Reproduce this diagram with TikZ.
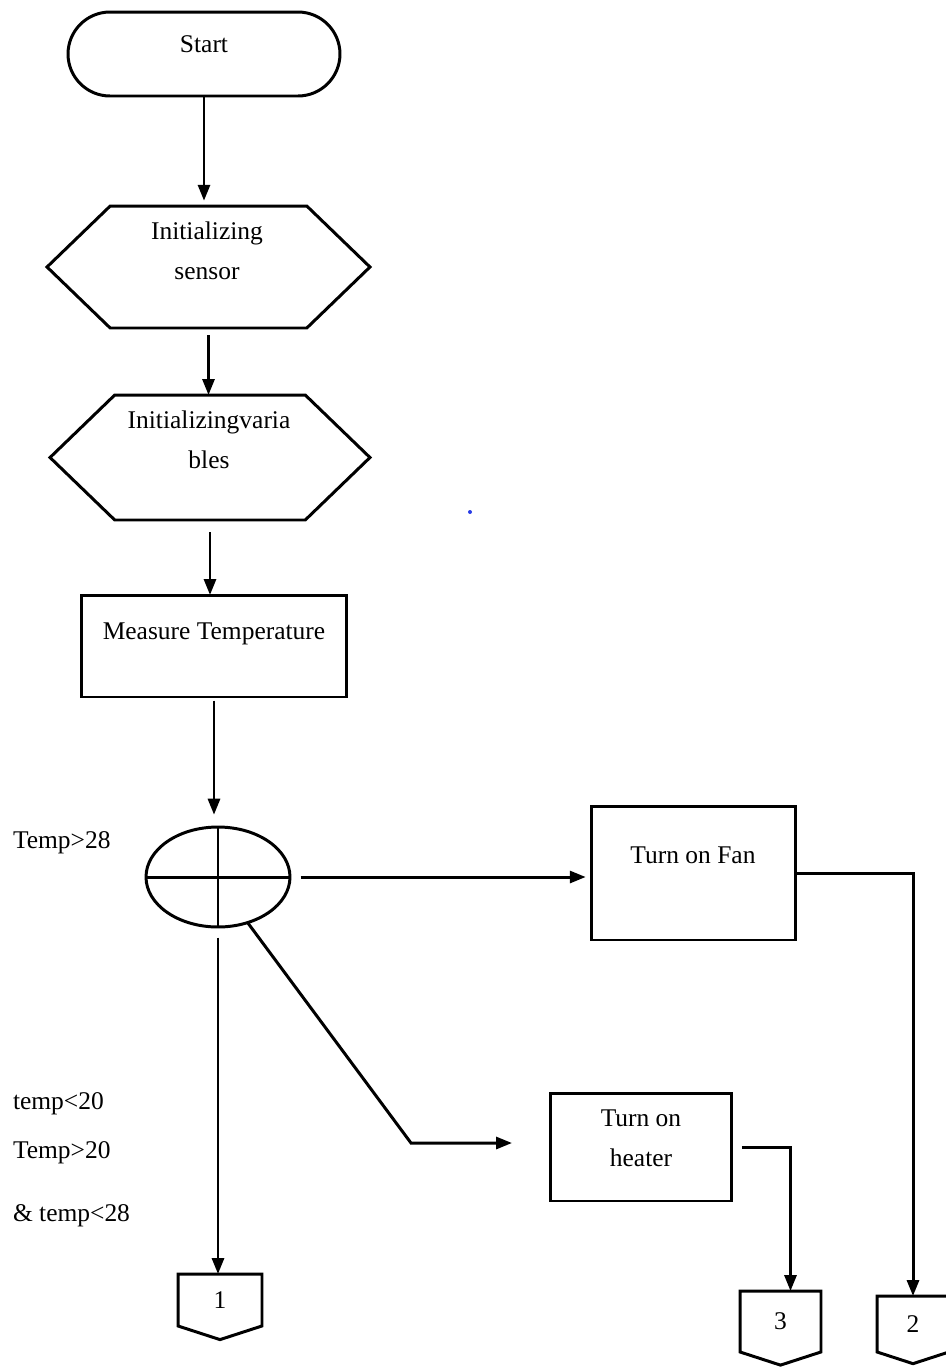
\documentclass[tikz,border=0pt]{standalone}
\usepackage{fontspec}
\setmainfont{Liberation Serif}
\usetikzlibrary{arrows.meta,positioning,shapes.geometric,shapes.misc,shapes.symbols}
\definecolor{dotBlue}{RGB}{40,60,230}

\begin{document}
\begin{tikzpicture}[x=0.02cm,y=-0.02cm,
    font=\fontsize{14.5}{23}\selectfont,
    every node/.style={inner sep=0pt,outer sep=0pt},
    lw/.style={line width=1.7pt},
    terminal/.style={lw,draw,rounded rectangle,minimum width=5.44cm,minimum height=1.68cm},
    prep/.style={lw,draw,signal,signal to=west and east,signal pointer angle=88},
    procbox/.style={lw,draw,rectangle},
    offpage/.style={lw,draw,signal,signal from=nowhere,signal to=south,signal pointer angle=144},
    arr/.style={lw,-{Triangle[length=3.2mm,width=2.4mm]}}]
  \useasboundingbox (0,0) rectangle (946,1367);

  % shapes
  \node[terminal] (start) at (204,54) {};
  \node at (204,44) {Start};
  \node[prep,minimum width=6.46cm,minimum height=2.44cm] (hexsens) at (208.5,267) {};
  \node[align=center] at (207,251) {Initializing\\sensor};
  \node[prep,minimum width=6.4cm,minimum height=2.5cm] (hexvar) at (210,457.5) {};
  \node[align=center] at (209,440) {Initializingvaria\\bles};
  \node[procbox,minimum width=5.32cm,minimum height=2.04cm] (measure) at (214,646) {};
  \node at (214,634) {Measure Temperature};
  \node[lw,draw,ellipse,minimum width=2.88cm,minimum height=2cm] (sw) at (218,877) {};
  \draw[lw] (sw.west) -- (sw.east) (sw.north) -- (sw.south);
  \node[procbox,minimum width=4.1cm,minimum height=2.68cm] (fan) at (693.5,873) {};
  \node at (693,855) {Turn on Fan};
  \node[procbox,minimum width=3.64cm,minimum height=2.16cm] (heater) at (641,1147) {};
  \node[align=center] at (641,1138) {Turn on\\heater};

  % off page connectors
  \node[offpage,minimum width=1.68cm,minimum height=1.08cm] (c1) at (220,1300) {1};
  \node[offpage,minimum width=1.62cm,minimum height=1.26cm] (c3) at (780.5,1321.5) {3};
  \node[offpage,minimum width=1.44cm,minimum height=1.16cm] (c2) at (913,1324) {2};

  % conditions
  \node[anchor=west] (gt28) at (13,843) {Temp>28};
  \node[anchor=west] (lt20) at (13,1104) {temp<20};
  \node[anchor=west] (gt20) at (13,1153) {Temp>20};
  \node[anchor=west] (lt28) at (13,1216) {\& temp<28};

  \fill[dotBlue] (470,512) circle (2);

  % flow
  \draw[arr,shorten >=3pt] (start.south) -- (start.south |- hexsens.north);
  \draw[arr,shorten <=4pt] (hexsens.south) -- (hexsens.south |- hexvar.north);
  \draw[arr,shorten <=7pt] (hexvar.south) -- (hexvar.south |- measure.north);
  \draw[arr,shorten <=2pt,shorten >=7pt] (measure.south) -- (measure.south |- sw.north);
  \draw[arr,shorten <=6pt,shorten >=3pt] (sw.east) -- (sw.east -| fan.west);
  \draw[arr] (fan.east) -| (c2.north);
  \draw[arr,shorten <=6pt] (sw.south) -- (sw.south |- c1.north);
  \coordinate (bend) at (411,1143);
  \draw[arr,shorten >=0.76cm] (sw.-57) -- (bend) -- (heater.west |- bend);
  \draw[arr,shorten <=0.2cm] (heater.east) -| ([xshift=0.2cm]c3.north);
\end{tikzpicture}
\end{document}
